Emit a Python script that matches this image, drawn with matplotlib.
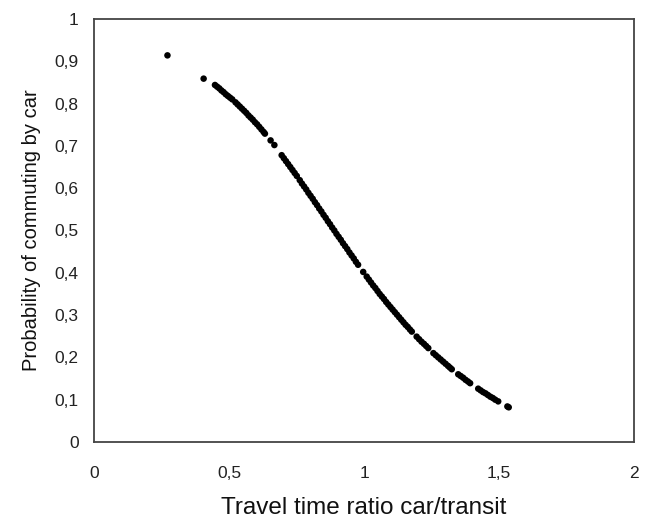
import matplotlib
matplotlib.use("Agg")
import matplotlib.pyplot as plt
from matplotlib.ticker import FuncFormatter

# Travel time ratio car/transit vs probability of commuting by car
ratio = [0.272, 0.406, 0.448, 0.456, 0.464, 0.472, 0.480, 0.488, 0.496, 0.504,
         0.512, 0.524, 0.532, 0.540, 0.548, 0.556, 0.564, 0.572, 0.580, 0.588,
         0.596, 0.604, 0.612, 0.620, 0.628, 0.633, 0.654, 0.668, 0.695, 0.703,
         0.711, 0.719, 0.727, 0.735, 0.743, 0.751, 0.762, 0.770, 0.778, 0.786,
         0.794, 0.802, 0.810, 0.818, 0.826, 0.834, 0.842, 0.850, 0.858, 0.866,
         0.874, 0.882, 0.890, 0.898, 0.906, 0.914, 0.922, 0.930, 0.938, 0.946,
         0.954, 0.962, 0.970, 0.978, 0.997, 1.010, 1.018, 1.026, 1.034, 1.042,
         1.050, 1.058, 1.066, 1.074, 1.082, 1.090, 1.098, 1.106, 1.114, 1.122,
         1.130, 1.138, 1.146, 1.154, 1.162, 1.170, 1.177, 1.195, 1.204, 1.213,
         1.222, 1.230, 1.238, 1.257, 1.266, 1.275, 1.284, 1.293, 1.302, 1.311,
         1.318, 1.325, 1.349, 1.358, 1.367, 1.376, 1.385, 1.393, 1.423, 1.432,
         1.441, 1.450, 1.459, 1.468, 1.477, 1.486, 1.497, 1.531, 1.536]
prob = [0.914, 0.859, 0.844, 0.840, 0.836, 0.831, 0.827, 0.822, 0.818, 0.814,
        0.810, 0.803, 0.798, 0.793, 0.788, 0.783, 0.778, 0.772, 0.767, 0.762,
        0.756, 0.751, 0.745, 0.739, 0.733, 0.729, 0.713, 0.702, 0.678, 0.671,
        0.664, 0.657, 0.650, 0.643, 0.636, 0.629, 0.619, 0.611, 0.604, 0.597,
        0.589, 0.582, 0.575, 0.567, 0.560, 0.552, 0.545, 0.537, 0.530, 0.522,
        0.515, 0.507, 0.500, 0.492, 0.485, 0.478, 0.470, 0.463, 0.456, 0.448,
        0.441, 0.434, 0.426, 0.419, 0.402, 0.391, 0.384, 0.377, 0.370, 0.364,
        0.357, 0.350, 0.344, 0.338, 0.331, 0.325, 0.319, 0.313, 0.307, 0.301,
        0.295, 0.289, 0.283, 0.277, 0.272, 0.266, 0.261, 0.249, 0.243, 0.237,
        0.232, 0.227, 0.222, 0.210, 0.205, 0.200, 0.195, 0.190, 0.185, 0.180,
        0.176, 0.172, 0.160, 0.156, 0.152, 0.147, 0.143, 0.139, 0.126, 0.122,
        0.118, 0.115, 0.111, 0.107, 0.104, 0.100, 0.096, 0.084, 0.082]

x_ticks = [0, 0.5, 1, 1.5, 2]
y_ticks = [0, 0.1, 0.2, 0.3, 0.4, 0.5, 0.6, 0.7, 0.8, 0.9, 1]

plt.rcParams['font.family'] = ['Liberation Sans', 'DejaVu Sans']

fig = plt.figure(figsize=(6.52, 5.19), dpi=100)
ax = fig.add_axes([0.1442, 0.1484, 0.8282, 0.815])

ax.scatter(ratio, prob, s=22, color='black', edgecolors='none', zorder=3)

ax.set_xlim(0, 2)
ax.set_ylim(0, 1)
ax.set_xticks(x_ticks)
ax.set_yticks(y_ticks)

def comma(v, pos):
    s = ('%g' % v)
    return s.replace('.', ',')

ax.xaxis.set_major_formatter(FuncFormatter(comma))
ax.yaxis.set_major_formatter(FuncFormatter(comma))
ax.tick_params(axis='both', length=0, labelsize=12.5, colors='#222222')
ax.tick_params(axis='x', pad=17)
ax.tick_params(axis='y', pad=11)

for sp in ax.spines.values():
    sp.set_color('#444444')
    sp.set_linewidth(1.3)

ax.set_xlabel('Travel time ratio car/transit', fontsize=17.5, color='#111111', labelpad=12)
ax.set_ylabel('Probability of commuting by car', fontsize=14.5, color='#111111', labelpad=10)

fig.savefig('out.png', dpi=100)
